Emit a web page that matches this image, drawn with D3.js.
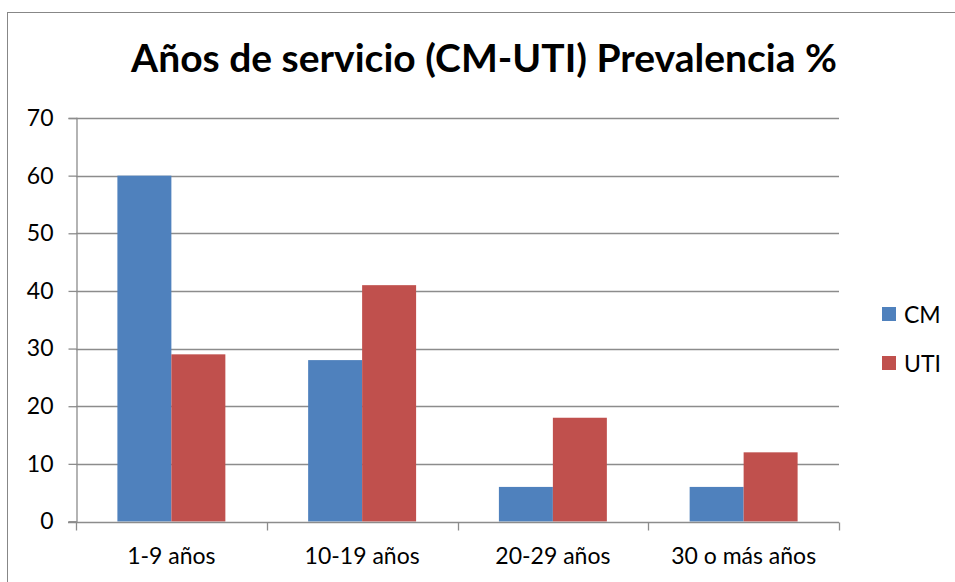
<!DOCTYPE html>
<html>
<head>
<meta charset="utf-8">
<script src="https://cdn.jsdelivr.net/npm/d3@7"></script>
<style>
  body { margin: 0; background: #fff; }
  svg { display: block; font-family: Lato, "Open Sans", sans-serif; }
</style>
</head>
<body>
<div id="chart"></div>
<script>
// data
var categories = ["1-9 años", "10-19 años", "20-29 años", "30 o más años"];
var seriesNames = ["CM", "UTI"];
var cmValues = [60, 28, 6, 6];
var utiValues = [29, 41, 18, 12];
var yTicks = [0, 10, 20, 30, 40, 50, 60, 70];
var colors = ["#4f81bd", "#c0504d"];

var width = 955, height = 582;
var plot = { left: 76, right: 839, top: 118, bottom: 521.5 };

var svg = d3.select("#chart").append("svg")
    .attr("width", width)
    .attr("height", height);

// outer frame
svg.append("rect")
    .attr("x", 7.5).attr("y", 12.5)
    .attr("width", width).attr("height", height)
    .attr("fill", "none")
    .attr("stroke", "#878787")
    .attr("stroke-width", 1);

svg.append("text")
    .attr("x", 484).attr("y", 72)
    .attr("text-anchor", "middle")
    .attr("font-size", 39)
    .attr("font-weight", "bold")
    .attr("fill", "#000")
    .text("Años de servicio (CM-UTI) Prevalencia %");

var x0 = d3.scaleBand()
    .domain(categories)
    .range([plot.left, plot.right])
    .paddingInner(0.434)
    .paddingOuter(0.217);

var x1 = d3.scaleBand()
    .domain(seriesNames)
    .range([0, x0.bandwidth()]);

var y = d3.scaleLinear()
    .domain([0, 70])
    .range([plot.bottom, plot.top]);

// gridlines
svg.append("g")
  .selectAll("line")
  .data(yTicks.filter(function(d) { return d > 0; }))
  .join("line")
    .attr("x1", plot.left).attr("x2", plot.right)
    .attr("y1", function(d) { return Math.round(y(d)) + 0.5; })
    .attr("y2", function(d) { return Math.round(y(d)) + 0.5; })
    .attr("stroke", "#8c8c8c")
    .attr("stroke-width", 1.3);

var rows = categories.map(function(c, i) {
  return { cat: c, vals: [cmValues[i], utiValues[i]] };
});

svg.append("g")
  .selectAll("g")
  .data(rows)
  .join("g")
    .attr("transform", function(d) { return "translate(" + x0(d.cat) + ",0)"; })
  .selectAll("rect")
  .data(function(d) { return d.vals.map(function(v, j) { return { name: seriesNames[j], v: v, j: j }; }); })
  .join("rect")
    .attr("x", function(d) { return x1(d.name); })
    .attr("width", x1.bandwidth())
    .attr("y", function(d) { return y(d.v); })
    .attr("height", function(d) { return y(0) - y(d.v); })
    .attr("fill", function(d) { return colors[d.j]; });

// y axis
var yAxis = svg.append("g")
    .attr("transform", "translate(" + (plot.left + 0.5) + ",0)")
    .call(d3.axisLeft(y).tickValues(yTicks).tickSize(8).tickPadding(15));
yAxis.select(".domain").attr("stroke", "#8c8c8c").attr("stroke-width", 1.3);
yAxis.selectAll(".tick line").attr("stroke", "#8c8c8c").attr("stroke-width", 1.3);
yAxis.selectAll(".tick text").attr("font-size", 23).attr("fill", "#000")
    .attr("font-family", "Lato, sans-serif");

// x axis with ticks at category boundaries
var xAxis = svg.append("g")
    .attr("transform", "translate(0," + (Math.round(plot.bottom) + 0.5) + ")");
xAxis.append("line")
    .attr("x1", plot.left - 8).attr("x2", plot.right)
    .attr("stroke", "#8c8c8c").attr("stroke-width", 1.3);
var step = x0.step();
xAxis.selectAll(".xt")
  .data(d3.range(categories.length + 1))
  .join("line")
    .attr("class", "xt")
    .attr("x1", function(i) { return Math.round(plot.left + i * step) + 0.5; })
    .attr("x2", function(i) { return Math.round(plot.left + i * step) + 0.5; })
    .attr("y1", 0).attr("y2", 8)
    .attr("stroke", "#8c8c8c").attr("stroke-width", 1.3);
xAxis.selectAll(".xl")
  .data(categories)
  .join("text")
    .attr("class", "xl")
    .attr("x", function(d) { return x0(d) + x0.bandwidth() / 2; })
    .attr("y", 41)
    .attr("text-anchor", "middle")
    .attr("font-size", 23)
    .attr("fill", "#000")
    .text(function(d) { return d; });

// legend
var legend = svg.append("g")
  .selectAll("g")
  .data(seriesNames)
  .join("g")
    .attr("transform", function(d, i) { return "translate(882," + (307 + i * 49) + ")"; });
legend.append("rect")
    .attr("width", 14).attr("height", 14)
    .attr("fill", function(d, i) { return colors[i]; });
legend.append("text")
    .attr("x", 22).attr("y", 15.5)
    .attr("font-size", 23)
    .attr("fill", "#000")
    .text(function(d) { return d; });
</script>
</body>
</html>
